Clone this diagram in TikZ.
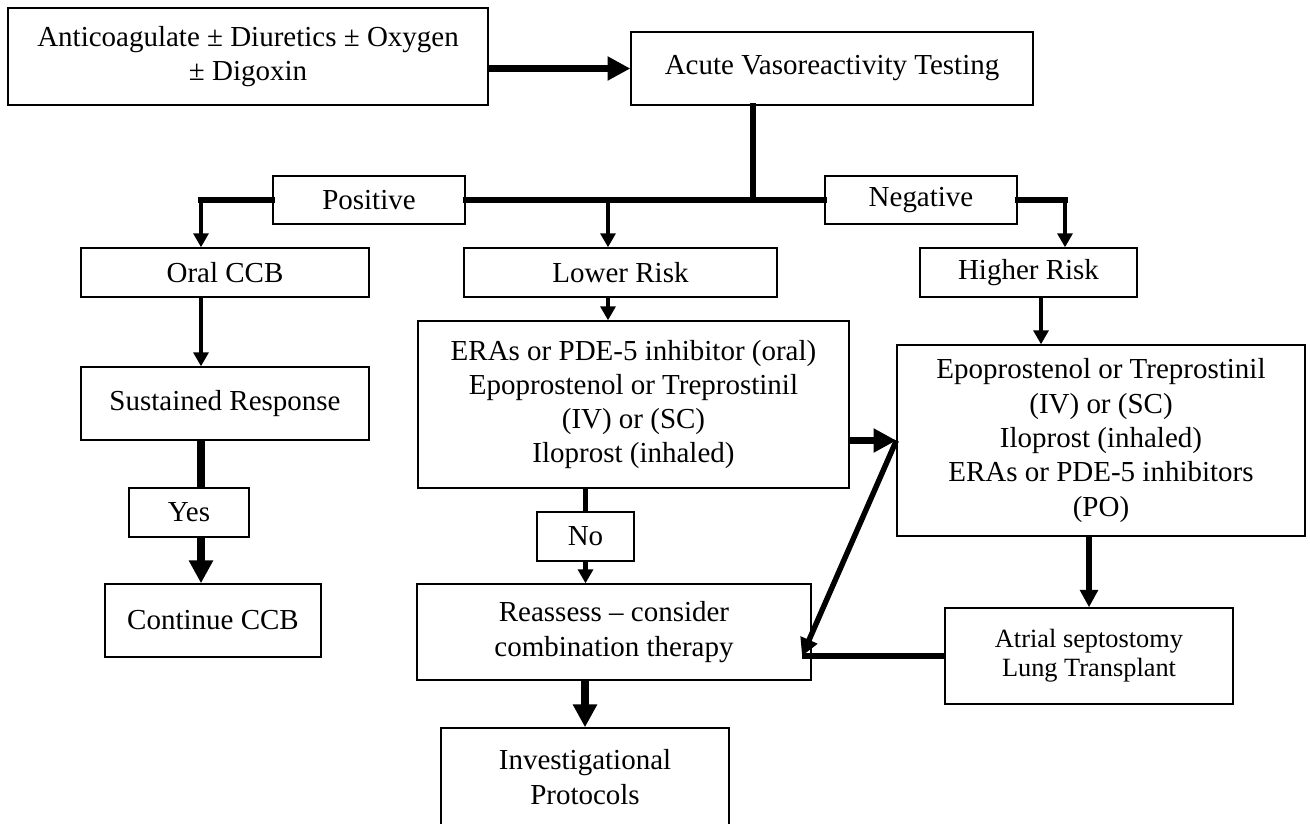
\documentclass[tikz,border=0pt]{standalone}
\usepackage{fontspec}
\setmainfont{Liberation Serif}
\usetikzlibrary{arrows.meta}

\tikzset{
  box/.style={draw, line width=0.8pt, inner sep=0pt, align=center,
    font=\fontsize{16.5}{19.5}\selectfont},
  bus/.style={line width=3.4pt, line cap=rect},
  medline/.style={line width=3.1pt},
  bigline/.style={line width=4.3pt},
  smallarr/.style={line width=2.3pt, -{Triangle[length=8pt,width=8.5pt]}},
  medarr/.style={line width=3.1pt, -{Triangle[length=10pt,width=10pt]}},
  bigarr/.style={line width=4.3pt, -{Triangle[length=13pt,width=13pt]}},
}

\begin{document}
\begin{tikzpicture}[x=0.02cm, y=-0.02cm]
    \useasboundingbox (0,0) rectangle (1310,823);
    % top row
    \node[box, minimum width=9.6cm, minimum height=1.94cm] (anti) at (248,56.5)
        {Anticoagulate ± Diuretics ± Oxygen\\± Digoxin};
    \node[box, minimum width=8.04cm, minimum height=1.46cm] (avt) at (832,68.5)
        {Acute Vasoreactivity Testing};
    % test result labels on the bus
    \node[box, minimum width=3.84cm, minimum height=0.96cm] (pos) at (369,200) {Positive};
    \node[box, minimum width=3.84cm, minimum height=0.96cm] (neg) at (921,200) {Negative};
    % branches
    \node[box, minimum width=5.76cm, minimum height=0.98cm] (oral) at (225,272.5) {Oral CCB};
    \node[box, minimum width=6.26cm, minimum height=0.98cm] (lower) at (620.5,272.5) {Lower Risk};
    \node[box, minimum width=4.34cm, minimum height=0.98cm] (higher) at (1028.5,272.5) {Higher Risk};
    % left column
    \node[box, minimum width=5.76cm, minimum height=1.46cm] (sus) at (225,403.5) {Sustained Response};
    \node[box, minimum width=2.4cm, minimum height=0.98cm] (yes) at (189,512.5) {Yes};
    \node[box, minimum width=4.32cm, minimum height=1.46cm] (cont) at (213,620.5) {Continue CCB};
    % middle column
    \node[box, minimum width=8.62cm, minimum height=3.34cm] (eras) at (633.5,404.5)
        {ERAs or PDE-5 inhibitor (oral)\\Epoprostenol or Treprostinil\\(IV) or (SC)\\Iloprost (inhaled)};
    \node[box, minimum width=1.94cm, minimum height=0.98cm] (no) at (585.5,536.5) {No};
    \node[box, minimum width=7.88cm, minimum height=1.92cm] (reas) at (614,632)
        {Reassess – consider\\combination therapy};
    \node[box, minimum width=5.76cm, minimum height=1.96cm] (invest) at (585,777)
        {Investigational\\Protocols};
    % right column
    \node[box, minimum width=8.16cm, minimum height=3.82cm] (epo) at (1101,440.5)
        {Epoprostenol or Treprostinil\\(IV) or (SC)\\Iloprost (inhaled)\\ERAs or PDE-5 inhibitors\\(PO)};
    \node[box, minimum width=5.76cm, minimum height=1.92cm, font=\fontsize{15}{16.5}\selectfont]
        (atrial) at (1089,656) {Atrial septostomy\\Lung Transplant};

    \coordinate (hub) at (753,200);
    \coordinate (lcorner) at (201,200);
    \coordinate (lowtap) at (608,200);
    \coordinate (rcorner) at (1065,200);
    \coordinate (meet) at (802,656);

    \draw[bigarr] (anti.east |- avt.west) -- (avt.west);
    \draw[bus] (hub |- avt.south) -- (hub);
    \draw[bus] (lcorner) -- (pos) -- (neg) -- (rcorner);
    \draw[smallarr] (lcorner) -- (lcorner |- oral.north);
    \draw[smallarr] (lowtap) -- (lowtap |- lower.north);
    \draw[smallarr] (rcorner) -- (rcorner |- higher.north);
    % positive
    \draw[smallarr] (lcorner |- oral.south) -- (lcorner |- sus.north);
    \draw[bigline] (lcorner |- sus.south) -- (lcorner |- yes.north);
    \draw[bigarr] (lcorner |- yes.south) -- (lcorner |- cont.north);
    % lower risk
    \draw[smallarr] (lowtap |- lower.south) -- (lowtap |- eras.north);
    \draw[bigarr] (eras.east |- epo.west) -- (epo.west);
    \draw[medline] (no.north |- eras.south) -- (no.north);
    \draw[smallarr] (no.south) -- (no.south |- reas.north);
    \draw[bigarr] (invest.north |- reas.south) -- (invest.north);
    % higher risk
    \draw[smallarr] ([xshift=0.25cm]higher.south) -- ([xshift=0.25cm]higher.south |- epo.north);
    \draw[medarr] (atrial.north |- epo.south) -- (atrial.north);
    \draw[medarr] (epo.west) -- (meet);
    \draw[medline] (atrial.west) -- (meet);
\end{tikzpicture}
\end{document}
